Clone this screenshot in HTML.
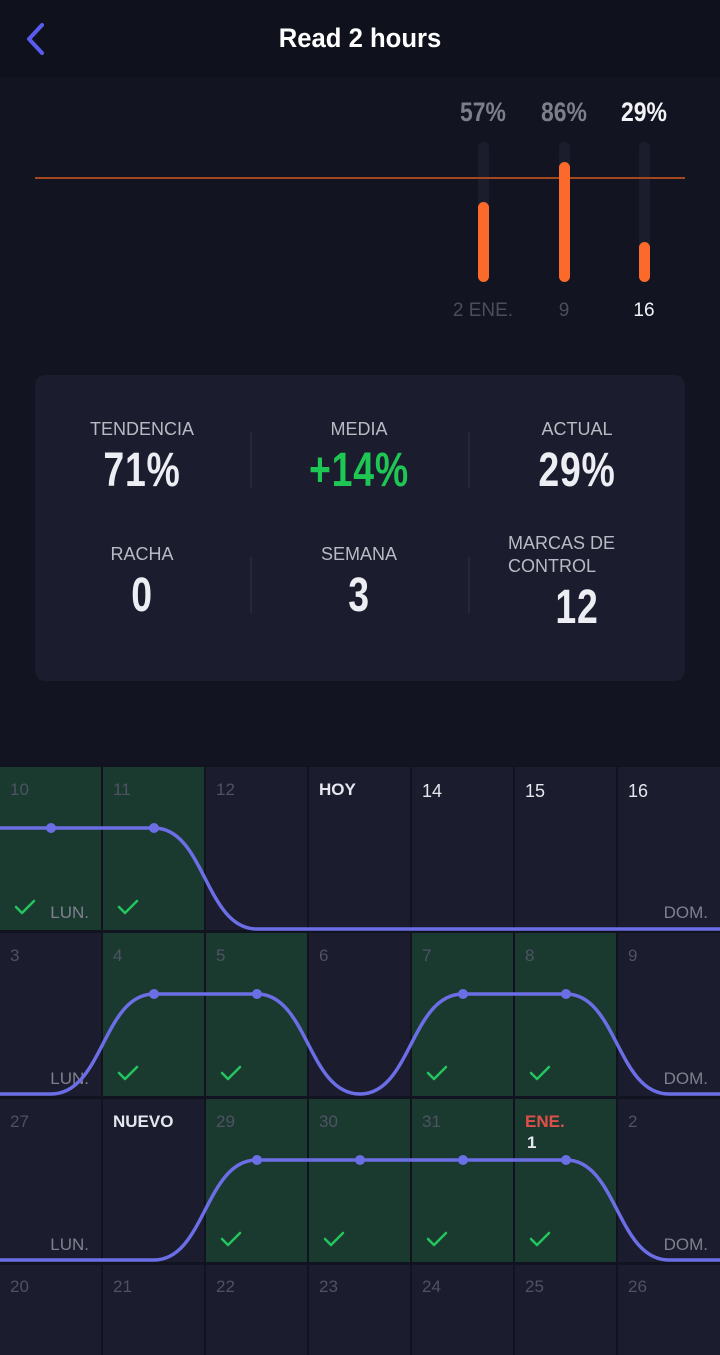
<!DOCTYPE html>
<html><head><meta charset="utf-8"><style>
body{margin:0;width:720px;height:1355px;background:#121421;overflow:hidden;font-family:"Liberation Sans",sans-serif;position:relative}
.a{position:absolute}
.lbl{position:absolute;color:#b9bac4;font-size:18px;text-align:center;width:200px}
.num{position:absolute;color:#eceef3;font-size:48px;font-weight:bold;text-align:center;width:200px;transform:scaleX(0.78);letter-spacing:1px}
.sep{position:absolute;width:2px;height:56px;background:#25273a}
</style></head><body>
<div class="a" style="left:0;top:0;width:720px;height:77px;background:#0f111c"></div>
<svg class="a" style="left:22px;top:22px" width="26" height="34"><polyline points="20,3 7,17 20,31" fill="none" stroke="#5a5cf0" stroke-width="4" stroke-linecap="round" stroke-linejoin="round"/></svg>
<div class="a" style="left:0;width:720px;top:23px;text-align:center;color:#fff;font-size:27px;font-weight:bold;transform:scaleX(0.95)">Read 2 hours</div>

<svg class="a" style="left:0;top:80px" width="720" height="250">
<g font-family="Liberation Sans" font-size="27" font-weight="bold" text-anchor="middle">
<text x="0" y="41" fill="#7c7e8a" transform="translate(483,0) scale(0.85,1)">57%</text>
<text x="0" y="41" fill="#7c7e8a" transform="translate(564,0) scale(0.85,1)">86%</text>
<text x="0" y="41" fill="#f2f3f6" transform="translate(644,0) scale(0.85,1)">29%</text>
</g>
<rect x="478" y="62" width="11" height="140" rx="5.5" fill="#1b1d2c"/>
<rect x="559" y="62" width="11" height="140" rx="5.5" fill="#1b1d2c"/>
<rect x="639" y="62" width="11" height="140" rx="5.5" fill="#1b1d2c"/>
<line x1="35" y1="98" x2="685" y2="98" stroke="#a2491f" stroke-width="2"/>
<rect x="478" y="122" width="11" height="80" rx="5.5" fill="#fb6a2a"/>
<rect x="559" y="82" width="11" height="120" rx="5.5" fill="#fb6a2a"/>
<rect x="639" y="162" width="11" height="40" rx="5.5" fill="#fb6a2a"/>
<g font-family="Liberation Sans" font-size="19" text-anchor="middle">
<text x="483" y="236" fill="#4b4d5c">2 ENE.</text>
<text x="564" y="236" fill="#4b4d5c">9</text>
<text x="644" y="236" fill="#f2f3f6">16</text>
</g>
</svg>

<div class="a" style="left:35px;top:375px;width:650px;height:306px;background:#1b1c2d;border-radius:10px"></div>
<div class="lbl" style="left:42px;top:419px">TENDENCIA</div>
<div class="num" style="left:42px;top:443px">71%</div>
<div class="lbl" style="left:259px;top:419px">MEDIA</div>
<div class="num" style="left:259px;top:443px;color:#1ec654">+14%</div>
<div class="lbl" style="left:477px;top:419px">ACTUAL</div>
<div class="num" style="left:477px;top:443px">29%</div>
<div class="lbl" style="left:42px;top:544px">RACHA</div>
<div class="num" style="left:42px;top:568px">0</div>
<div class="lbl" style="left:259px;top:544px">SEMANA</div>
<div class="num" style="left:259px;top:568px">3</div>
<div class="lbl" style="left:508px;top:532px;text-align:left;line-height:23px">MARCAS DE<br>CONTROL</div>
<div class="num" style="left:477px;top:580px">12</div>
<div class="sep" style="left:250px;top:432px"></div>
<div class="sep" style="left:468px;top:432px"></div>
<div class="sep" style="left:250px;top:557px"></div>
<div class="sep" style="left:468px;top:557px"></div>

<svg class="a" style="left:0;top:0" width="720" height="1355" font-family="Liberation Sans">
<rect x="0" y="765" width="720" height="590" fill="#121320"/>
<g>
<rect x="0" y="767" width="101" height="163" fill="#1b3a2f"/><rect x="103" y="767" width="101" height="163" fill="#1b3a2f"/>
<rect x="206" y="767" width="101" height="163" fill="#1b1c2e"/><rect x="309" y="767" width="101" height="163" fill="#1b1c2e"/>
<rect x="412" y="767" width="101" height="163" fill="#1b1c2e"/><rect x="515" y="767" width="101" height="163" fill="#1b1c2e"/>
<rect x="618" y="767" width="102" height="163" fill="#1b1c2e"/>
<rect x="0" y="933" width="101" height="163" fill="#1b1c2e"/><rect x="103" y="933" width="101" height="163" fill="#1b3a2f"/>
<rect x="206" y="933" width="101" height="163" fill="#1b3a2f"/><rect x="309" y="933" width="101" height="163" fill="#1b1c2e"/>
<rect x="412" y="933" width="101" height="163" fill="#1b3a2f"/><rect x="515" y="933" width="101" height="163" fill="#1b3a2f"/>
<rect x="618" y="933" width="102" height="163" fill="#1b1c2e"/>
<rect x="0" y="1099" width="101" height="163" fill="#1b1c2e"/><rect x="103" y="1099" width="101" height="163" fill="#1b1c2e"/>
<rect x="206" y="1099" width="101" height="163" fill="#1b3a2f"/><rect x="309" y="1099" width="101" height="163" fill="#1b3a2f"/>
<rect x="412" y="1099" width="101" height="163" fill="#1b3a2f"/><rect x="515" y="1099" width="101" height="163" fill="#1b3a2f"/>
<rect x="618" y="1099" width="102" height="163" fill="#1b1c2e"/>
<rect x="0" y="1265" width="101" height="90" fill="#1b1c2e"/><rect x="103" y="1265" width="101" height="90" fill="#1b1c2e"/>
<rect x="206" y="1265" width="101" height="90" fill="#1b1c2e"/><rect x="309" y="1265" width="101" height="90" fill="#1b1c2e"/>
<rect x="412" y="1265" width="101" height="90" fill="#1b1c2e"/><rect x="515" y="1265" width="101" height="90" fill="#1b1c2e"/>
<rect x="618" y="1265" width="102" height="90" fill="#1b1c2e"/>
</g>
<g font-size="17" fill="#4e5264">
<text x="10" y="795">10</text><text x="113" y="795">11</text><text x="216" y="795">12</text>
<text x="319" y="795" fill="#e6e7ee" font-weight="bold">HOY</text>
<text x="422" y="797" fill="#e6e7ee" font-size="18">14</text><text x="525" y="797" fill="#e6e7ee" font-size="18">15</text><text x="628" y="797" fill="#e6e7ee" font-size="18">16</text>
<text x="10" y="961">3</text><text x="113" y="961">4</text><text x="216" y="961">5</text><text x="319" y="961">6</text><text x="422" y="961">7</text><text x="525" y="961">8</text><text x="628" y="961">9</text>
<text x="10" y="1127">27</text><text x="113" y="1127" fill="#e6e7ee" font-weight="bold">NUEVO</text><text x="216" y="1127">29</text><text x="319" y="1127">30</text><text x="422" y="1127">31</text>
<text x="525" y="1127" fill="#e0504a" font-weight="bold">ENE.</text><text x="527" y="1148" fill="#e6e7ee" font-weight="bold">1</text><text x="628" y="1127">2</text>
<text x="10" y="1292">20</text><text x="113" y="1292">21</text><text x="216" y="1292">22</text><text x="319" y="1292">23</text><text x="422" y="1292">24</text><text x="525" y="1292">25</text><text x="628" y="1292">26</text>
</g>
<g font-size="17" fill="#7e808e" text-anchor="end">
<text x="89" y="918">LUN.</text><text x="708" y="918">DOM.</text>
<text x="89" y="1084">LUN.</text><text x="708" y="1084">DOM.</text>
<text x="89" y="1250">LUN.</text><text x="708" y="1250">DOM.</text>
</g>
<g fill="none" stroke="#22c55e" stroke-width="2.5" stroke-linecap="round" stroke-linejoin="round">
<path id="ck" d="M16,907 l6,6 l12,-12"/>
<use href="#ck" x="103"/>
<use href="#ck" x="103" y="166"/><use href="#ck" x="206" y="166"/><use href="#ck" x="412" y="166"/><use href="#ck" x="515" y="166"/>
<use href="#ck" x="206" y="332"/><use href="#ck" x="309" y="332"/><use href="#ck" x="412" y="332"/><use href="#ck" x="515" y="332"/>
</g>
<g fill="none" stroke="#6c6ee6" stroke-width="3.5">
<path d="M0,828 L154,828 C205,828 205,929 257,929 L720,929"/>
<path d="M0,1094 L51,1094 C103,1094 103,994 154,994 L257,994 C308,994 308,1094 360,1094 C411,1094 411,994 463,994 L566,994 C617,994 617,1094 669,1094 L720,1094"/>
<path d="M0,1260 L154,1260 C205,1260 205,1160 257,1160 L566,1160 C617,1160 617,1260 669,1260 L720,1260"/>
</g>
<g fill="#6c6ee6">
<circle cx="51" cy="828" r="5"/><circle cx="154" cy="828" r="5"/>
<circle cx="154" cy="994" r="5"/><circle cx="257" cy="994" r="5"/><circle cx="463" cy="994" r="5"/><circle cx="566" cy="994" r="5"/>
<circle cx="257" cy="1160" r="5"/><circle cx="360" cy="1160" r="5"/><circle cx="463" cy="1160" r="5"/><circle cx="566" cy="1160" r="5"/>
</g>
</svg>
</body></html>
